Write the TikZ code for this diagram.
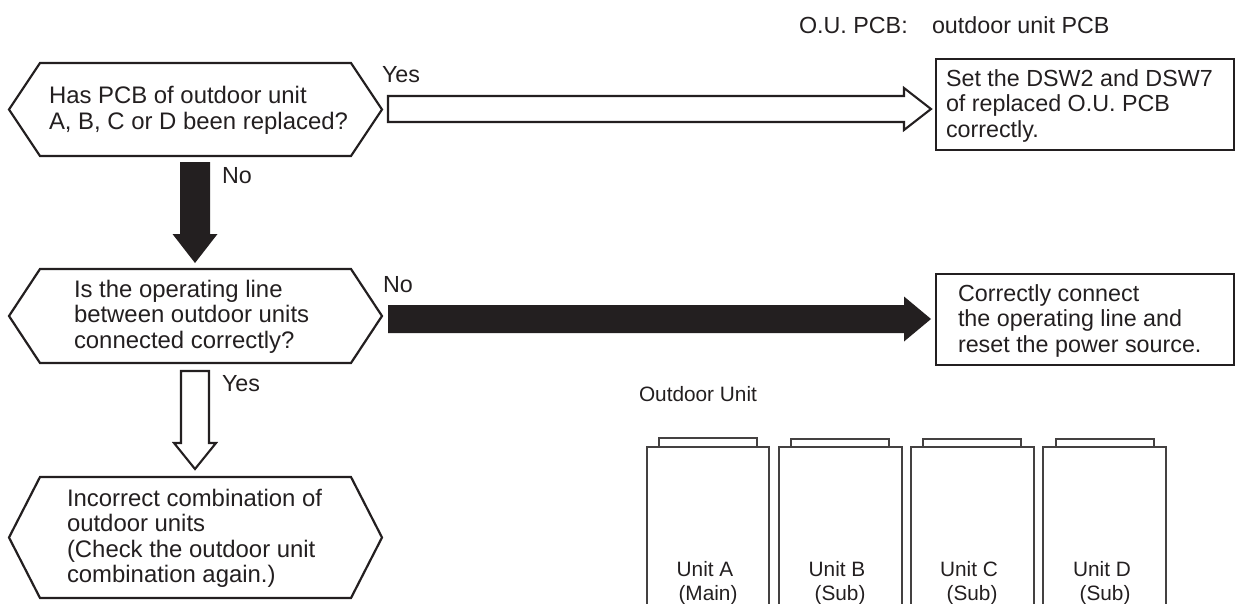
\documentclass[tikz,border=0pt]{standalone}
\usepackage{fontspec}
\setmainfont{Liberation Sans}
\usetikzlibrary{calc}
\definecolor{ink}{HTML}{231F20}
\tikzset{
  hexline/.style={draw=ink,line width=2.2pt,line join=miter},
  boxline/.style={draw=ink,line width=2.7pt},
  unitline/.style={draw=ink!85,line width=1.1pt},
  hollowarrow/.style={draw=ink,fill=white,line width=2.1pt,miter limit=10},
  solidarrow/.style={draw=none,fill=ink},
  anchorbox/.style={inner sep=0pt,outer sep=0pt},
  mainlabel/.style={inner sep=0pt,outer sep=0pt,text=ink,anchor=base west,font=\fontsize{23.9}{25.4}\selectfont},
  boxlabel/.style={mainlabel,font=\fontsize{23.3}{25}\selectfont},
  smalllabel/.style={inner sep=0pt,outer sep=0pt,text=ink,anchor=base,font=\fontsize{20.8}{25}\selectfont},
}
% horizontal block arrow: from, to, half shaft, half head, head length, style
\newcommand{\blockh}[6]{%
  \path[#6] let \p1=(#1),\p2=(#2) in
    (\x1,\y1+#3pt) -- (\x2-#5pt,\y1+#3pt) -- (\x2-#5pt,\y1+#4pt) -- (\x2,\y1) --
    (\x2-#5pt,\y1-#4pt) -- (\x2-#5pt,\y1-#3pt) -- (\x1,\y1-#3pt) -- cycle;}
% vertical block arrow going down
\newcommand{\blockv}[6]{%
  \path[#6] let \p1=(#1),\p2=(#2) in
    (\x1-#3pt,\y1) -- (\x1-#3pt,\y2+#5pt) -- (\x1-#4pt,\y2+#5pt) -- (\x1,\y2) --
    (\x1+#4pt,\y2+#5pt) -- (\x1+#3pt,\y2+#5pt) -- (\x1+#3pt,\y1) -- cycle;}
% hexagon around a flat core node
\newcommand{\hexa}[1]{%
  \draw[hexline] (#1.north west) -- (#1.north east) -- ($(#1.east)+(31pt,0)$) -- (#1.south east)
    -- (#1.south west) -- ($(#1.west)+(-31pt,0)$) -- cycle;}
\begin{document}
\begin{tikzpicture}[x=1pt,y=-1pt]
\useasboundingbox (0,0) rectangle (1235,603);
\clip (0,0) rectangle (1235,603);
% decision hexagons
\node[anchorbox,minimum width=311pt,minimum height=93pt,anchor=north west] (q1) at (40,63) {};
\node[anchorbox,minimum width=311pt,minimum height=94pt,anchor=north west] (q2) at (40,269) {};
\node[anchorbox,minimum width=311pt,minimum height=121pt,anchor=north west] (q3) at (40,477) {};
\hexa{q1}\hexa{q2}\hexa{q3}
\node[mainlabel] (q1a) at (49,103) {Has PCB of outdoor unit};
\node[mainlabel] (q1b) at (49,129) {A, B, C or D been replaced?};
\node[mainlabel] (q2a) at (74,297) {Is the operating line};
\node[mainlabel] (q2b) at (74,322.5) {between outdoor units};
\node[mainlabel] (q2c) at (74,348) {connected correctly?};
\node[mainlabel] (q3a) at (67,506) {Incorrect combination of};
\node[mainlabel] (q3b) at (67,531.5) {outdoor units};
\node[mainlabel] (q3c) at (67,557) {(Check the outdoor unit};
\node[mainlabel] (q3d) at (67,582) {combination again.)};
% result boxes
\node[anchorbox,boxline,minimum width=298pt,minimum height=91pt,anchor=north west] (r1) at (936,59) {};
\node[anchorbox,boxline,minimum width=298pt,minimum height=91pt,anchor=north west] (r2) at (936,274) {};
\node[boxlabel] (r1a) at (946,86) {Set the DSW2 and DSW7};
\node[boxlabel] (r1b) at (946,111.5) {of replaced O.U. PCB};
\node[boxlabel] (r1c) at (946,137) {correctly.};
\node[boxlabel] (r2a) at (958,301) {Correctly connect};
\node[boxlabel] (r2b) at (958,326.5) {the operating line and};
\node[boxlabel] (r2c) at (958,352) {reset the power source.};
% connectors
\coordinate (y1s) at (388,109); \coordinate (y1e) at (931,109);
\coordinate (n2s) at (388,319); \coordinate (n2e) at (931,319);
\coordinate (n1s) at (195,162); \coordinate (n1e) at (195,263);
\coordinate (y2s) at (195,371); \coordinate (y2e) at (195,469);
\blockh{y1s}{y1e}{13}{21}{27}{hollowarrow}
\blockh{n2s}{n2e}{14}{22.5}{27}{solidarrow}
\blockv{n1s}{n1e}{15}{22.5}{29}{solidarrow}
\blockv{y2s}{y2e}{14}{21}{26}{hollowarrow}
\node[boxlabel] (lyes1) at (382,82) {Yes};
\node[boxlabel] (lno2) at (383,292) {No};
\node[boxlabel] (lno1) at (222,183) {No};
\node[boxlabel] (lyes2) at (222,391) {Yes};
% note
\node[boxlabel] (note1) at (799,33) {O.U. PCB:};
\node[boxlabel] (note2) at (932,33) {outdoor unit PCB};
% outdoor units
\node[smalllabel,anchor=base west] (ou) at (639,401) {Outdoor Unit};
\foreach \nm/\xa/\xb/\ca/\cb/\ct/\tx/\la/\lb/\lx in {
  A/647/769/659/757/438/705/Unit A/(Main)/708,
  B/779/902/791/889/439/837/Unit B/(Sub)/840,
  C/911/1034/923/1021/439/969/Unit C/(Sub)/972,
  D/1043/1166/1056/1154/439/1102/Unit D/(Sub)/1105}{
  \draw[unitline] (\xa,603.5) -- (\xa,447) -- (\xb,447) -- (\xb,603.5);
  \draw[unitline] (\ca,447) -- (\ca,\ct) -- (\cb,\ct) -- (\cb,447);
  \node[smalllabel] (u\nm a) at (\tx,576.5) {\la};
  \node[smalllabel] (u\nm b) at (\lx,600.5) {\lb};
}
\end{tikzpicture}
\end{document}
